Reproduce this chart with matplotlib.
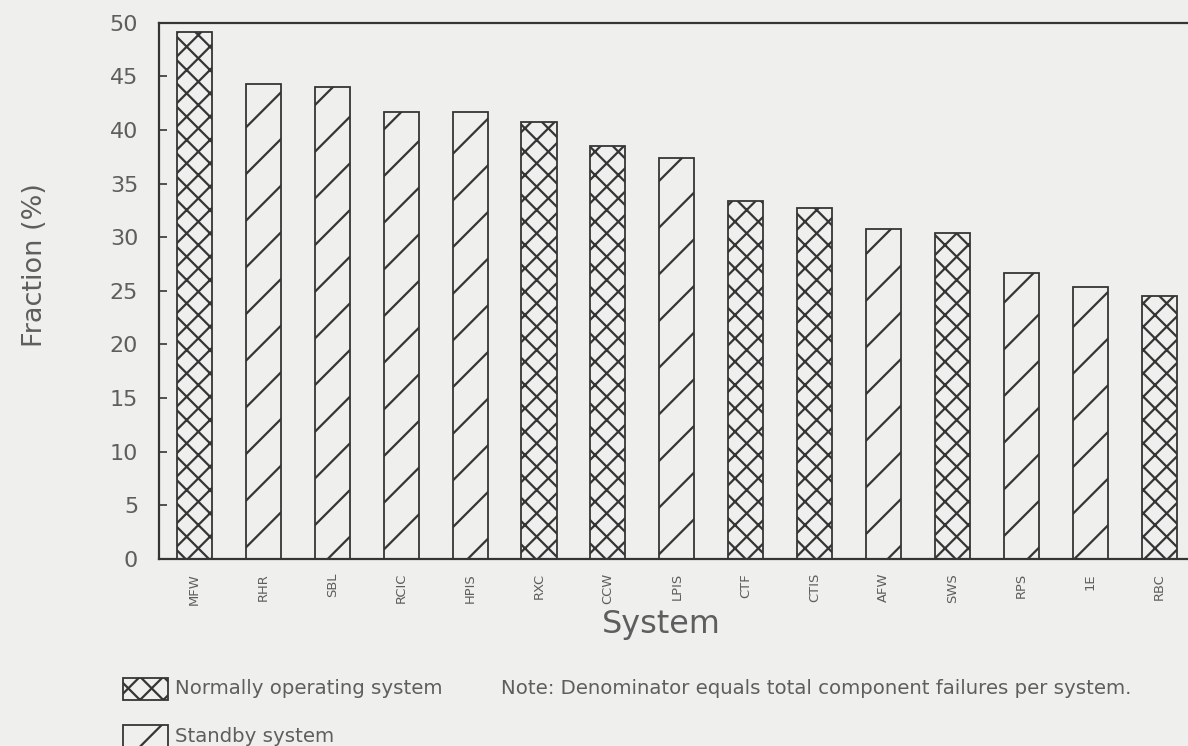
#!/usr/bin/env python3
"""Fraction of component failures per system, normally operating vs standby."""
import matplotlib
matplotlib.use("Agg")
import matplotlib.pyplot as plt
from matplotlib.patches import Rectangle

systems = ["MFW", "RHR", "SBL", "RCIC", "HPIS", "RXC", "CCW", "LPIS",
           "CTF", "CTIS", "AFW", "SWS", "RPS", "1E", "RBC"]
fraction = [49.1, 44.3, 44.0, 41.7, 41.7, 40.7, 38.5, 37.4,
            33.4, 32.7, 30.8, 30.35, 26.7, 25.4, 24.5]
# N = normally operating system, S = standby system
kind = ["N", "S", "S", "S", "S", "N", "N", "S",
        "N", "N", "S", "N", "S", "S", "N"]
yticks = [0, 5, 10, 15, 20, 25, 30, 35, 40, 45, 50]

# dpi 140 makes the hatch cell 140 px, which gives the denser crosshatch of the scan
DPI = 140
W, H = 1188, 746
K = 100 / DPI          # sizes below were picked in "points at 100 dpi"

BG = "#efefed"
INK = "#353535"
TXT = "#5e5e5e"
HATCH = {"N": "xx", "S": "/"}

plt.rcParams.update({"font.family": "DejaVu Sans", "hatch.linewidth": 1.6 * K,
                     "hatch.color": INK})

fig = plt.figure(figsize=(W / DPI, H / DPI), dpi=DPI, facecolor=BG)
ax = fig.add_axes([159 / W, 1 - 559 / H, 1036 / W, (559 - 22.7) / H])
ax.set_facecolor(BG)

xs = range(len(systems))
for x, v, k in zip(xs, fraction, kind):
    ax.bar(x, v, width=0.51, facecolor=BG, edgecolor=INK, lw=1.3 * K,
           hatch=HATCH[k], zorder=2)

ax.set_xlim(-0.515, 14.52)
ax.set_ylim(0, 50)
ax.set_yticks(yticks)
ax.set_yticklabels([str(t) for t in yticks], fontsize=16 * K, color=TXT)
ax.tick_params(axis="y", direction="in", length=6 * K, width=1.2 * K, color=INK,
               pad=15 * K)
ax.set_xticks(list(xs))
ax.set_xticklabels(systems, rotation=90, fontsize=9.5 * K, color=TXT)
ax.tick_params(axis="x", length=0, pad=10 * K)
for s in ("left", "top", "bottom"):
    ax.spines[s].set_color(INK)
    ax.spines[s].set_linewidth(1.6 * K)
ax.spines["right"].set_visible(False)

fig.text(35 / W, 1 - 265 / H, "Fraction (%)", rotation=90, fontsize=19.5 * K,
         color=TXT, ha="center", va="center")
fig.text(661 / W, 1 - 625 / H, "System", fontsize=23 * K, color=TXT,
         ha="center", va="center")

# legend drawn by hand to keep the original two-row layout with the note
for (y0, k, lab) in [(678, "N", "Normally operating system"),
                     (725, "S", "Standby system")]:
    fig.add_artist(Rectangle((123 / W, 1 - (y0 + 22) / H), 45 / W, 22 / H,
                             transform=fig.transFigure, facecolor=BG, edgecolor=INK,
                             lw=1.3 * K, hatch=HATCH[k]))
    fig.text(175 / W, 1 - (y0 + 11) / H, lab, fontsize=14.2 * K, color=TXT,
             ha="left", va="center")
fig.text(501 / W, 1 - 689 / H,
         "Note: Denominator equals total component failures per system.",
         fontsize=14.2 * K, color=TXT, ha="left", va="center")

fig.savefig("out.png", dpi=DPI, facecolor=BG)
